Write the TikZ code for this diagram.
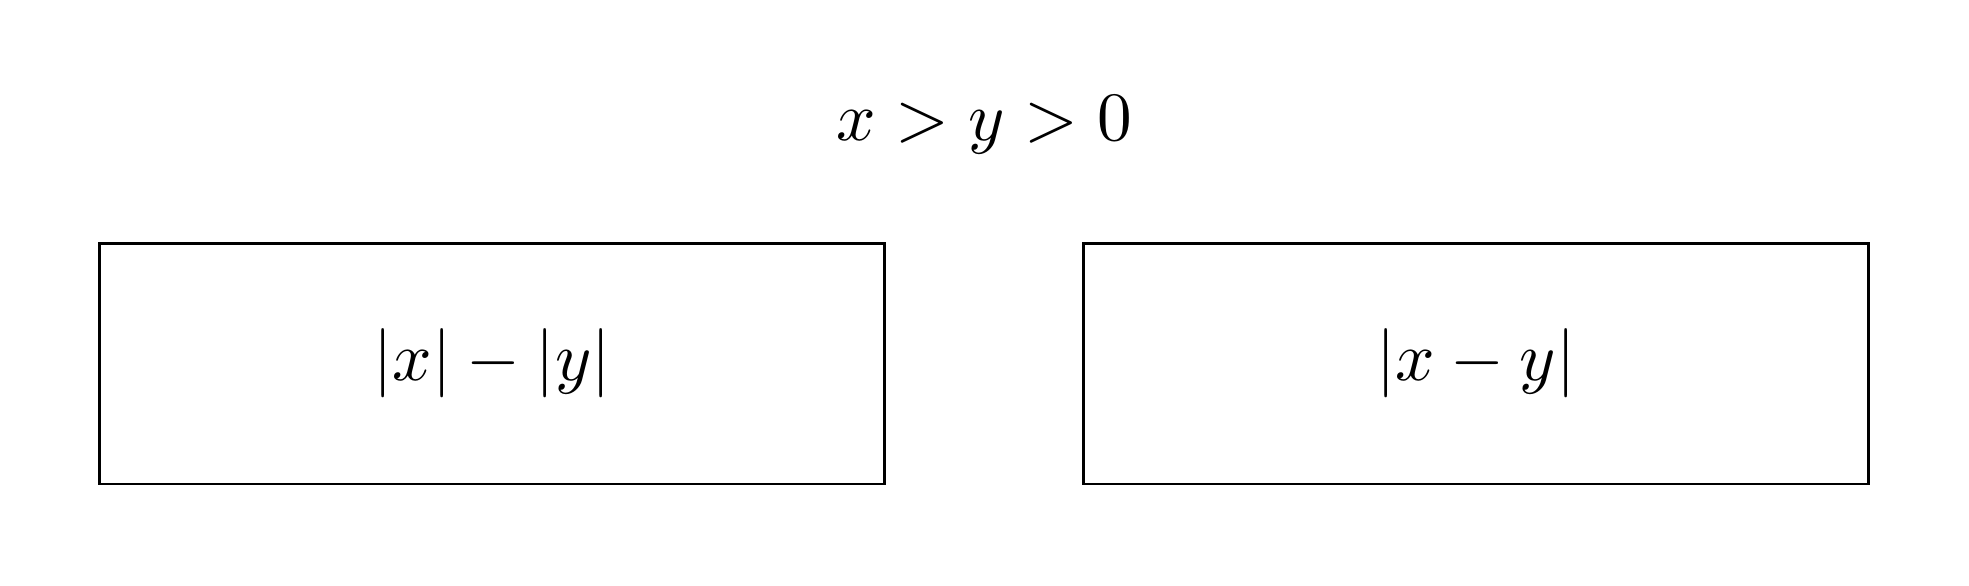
\documentclass[tikz,border=0pt]{standalone}
\begin{document}
\begin{tikzpicture}[
  exprbox/.style={draw=black, line width=0.4pt, minimum width=3.987cm, minimum height=1.221cm, inner sep=0pt},
  titletext/.style={inner sep=0pt}
]
\useasboundingbox (0,0) rectangle (10,2.971);
\node[titletext] (title) at (5,2.335) {$x>y>0$};
\node[exprbox] (left) at (2.499,1.124) {$|x|-|y|$};
\node[exprbox] (right) at (7.495,1.124) {$|x-y|$};
\end{tikzpicture}
\end{document}
